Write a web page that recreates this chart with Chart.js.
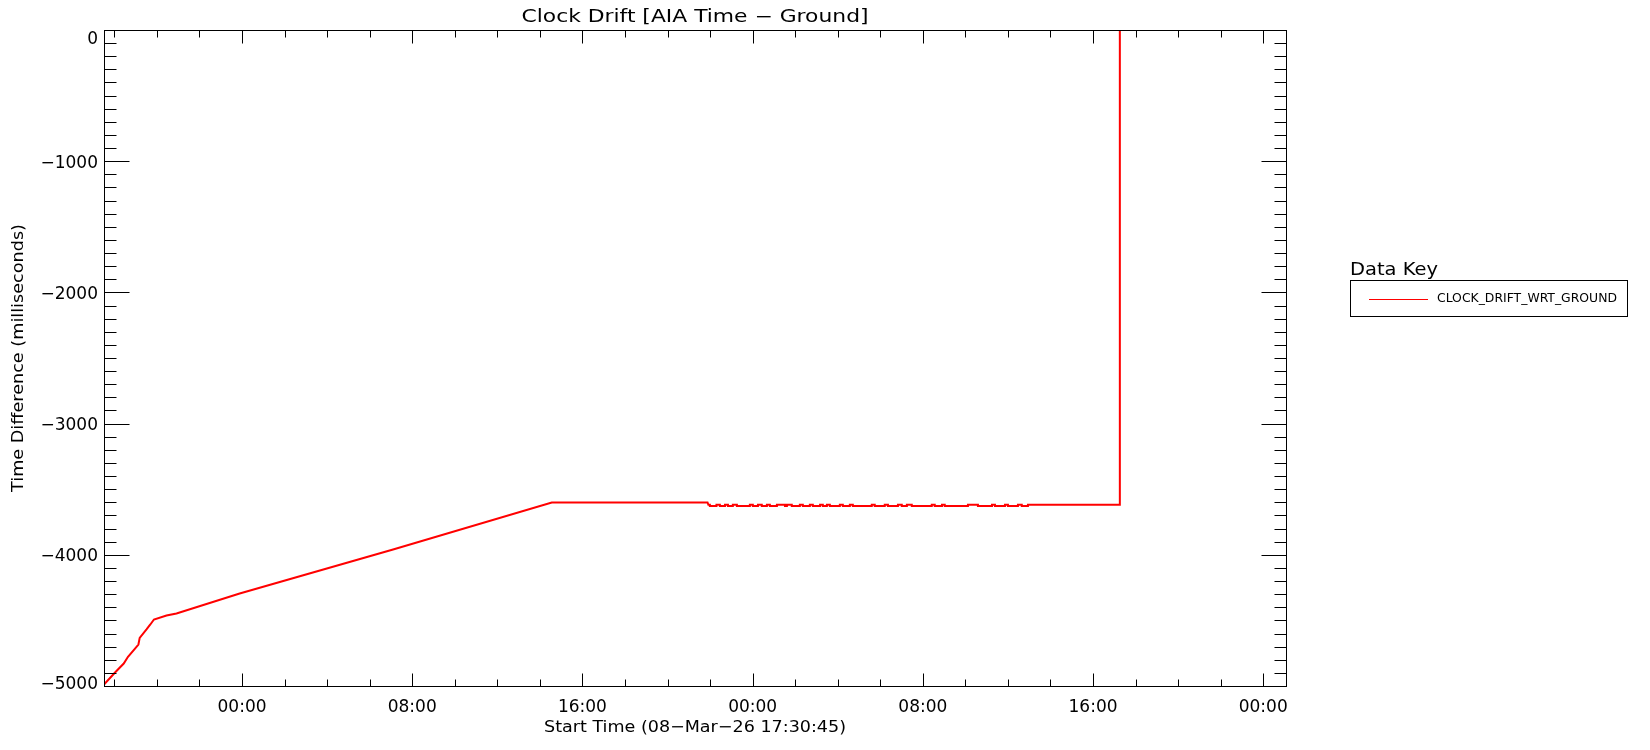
<!DOCTYPE html>
<html>
<head>
<meta charset="utf-8">
<title>Clock Drift</title>
<script src="https://cdn.jsdelivr.net/npm/chart.js@4.4.1/dist/chart.umd.min.js"></script>
<style>
  html, body { margin: 0; padding: 0; background: #fff; }
  #wrap { position: relative; width: 1650px; height: 750px; }
</style>
</head>
<body>
<div id="wrap"><canvas id="driftChart"></canvas></div>
<script>
// hours counted from 09-Mar-26 00:00, values in milliseconds
const driftHours = [
  -6.4875, -5.98, -5.56, -5.36, -5.04, -4.87, -4.81, -4.49, -4.31, -4.14,
  -3.55, -3.08, -0.11, 7.10, 14.56, 21.88, 21.92,
  // short dips in the second plateau
  21.99, 21.99, 22.30, 22.30,
  22.46, 22.46, 22.70, 22.70,
  22.84, 22.84, 23.07, 23.07,
  23.26, 23.26, 23.87, 23.87,
  24.01, 24.01, 24.25, 24.25,
  24.43, 24.43, 24.67, 24.67,
  24.81, 24.81, 25.14, 25.14,
  25.52, 25.52, 25.61, 25.61,
  25.84, 25.84, 26.22, 26.22,
  26.36, 26.36, 26.69, 26.69,
  26.83, 26.83, 27.17, 27.17,
  27.30, 27.30, 27.49, 27.49,
  27.63, 27.63, 28.10, 28.10,
  28.24, 28.24, 28.57, 28.57,
  28.71, 28.71, 29.60, 29.60,
  29.74, 29.74, 30.21, 30.21,
  30.36, 30.36, 30.83, 30.83,
  31.01, 31.01, 31.25, 31.25,
  31.48, 31.48, 32.42, 32.42,
  32.56, 32.56, 32.90, 32.90,
  33.03, 33.03, 34.12, 34.12,
  34.59, 34.59, 35.25, 35.25,
  35.39, 35.39, 35.86, 35.86,
  36.00, 36.00, 36.47, 36.47,
  36.65, 36.65, 36.94, 36.94,
  41.26, 41.26,
];
const driftMs = [
  -4989, -4899, -4829, -4777, -4717, -4684, -4633, -4569, -4531, -4493,
  -4463, -4447, -4295, -3960, -3601, -3601, -3619,
  -3619, -3629, -3629, -3619,
  -3619, -3629, -3629, -3619,
  -3619, -3629, -3629, -3619,
  -3619, -3629, -3629, -3619,
  -3619, -3629, -3629, -3619,
  -3619, -3629, -3629, -3619,
  -3619, -3629, -3629, -3619,
  -3619, -3629, -3629, -3619,
  -3619, -3629, -3629, -3619,
  -3619, -3629, -3629, -3619,
  -3619, -3629, -3629, -3619,
  -3619, -3629, -3629, -3619,
  -3619, -3629, -3629, -3619,
  -3619, -3629, -3629, -3619,
  -3619, -3629, -3629, -3619,
  -3619, -3629, -3629, -3619,
  -3619, -3629, -3629, -3619,
  -3619, -3629, -3629, -3619,
  -3619, -3629, -3629, -3619,
  -3619, -3629, -3629, -3619,
  -3619, -3629, -3629, -3619,
  -3619, -3629, -3629, -3619,
  -3619, -3629, -3629, -3619,
  -3619, -3629, -3629, -3619,
  -3619, -3629, -3629, -3619,
  -3619, 0,
];

const xRange = [-6.4875, 49.07];
const xTickHours = [0, 8, 16, 24, 32, 40, 48];
const xTickLabels = ["00:00", "08:00", "16:00", "00:00", "08:00", "16:00", "00:00"];
const xMinorStep = 2;
const yRange = [-5000, 0];
const yTicks = [0, -1000, -2000, -3000, -4000, -5000];
const yTickLabels = ["0", "\u22121000", "\u22122000", "\u22123000", "\u22124000", "\u22125000"];
const yMinorStep = 100;

const titleText = "Clock Drift [AIA Time \u2212 Ground]";
const xTitleText = "Start Time (08\u2212Mar\u221226 17:30:45)";
const yTitleText = "Time Difference (milliseconds)";
const keyTitle = "Data Key";
const seriesName = "CLOCK_DRIFT_WRT_GROUND";

const FONT = "'DejaVu Sans', 'Liberation Sans', sans-serif";

// draw text stretched horizontally to a target width
function fitText(ctx, text, x, y, size, width, align, angle) {
  ctx.save();
  ctx.font = `${size}px ${FONT}`;
  const w = ctx.measureText(text).width;
  ctx.translate(x, y);
  if (angle) ctx.rotate(angle);
  ctx.scale(width / w, 1);
  ctx.textBaseline = "middle";
  ctx.textAlign = align;
  ctx.fillText(text, 0, 0);
  ctx.restore();
}

const framePlugin = {
  id: "frame",
  afterDraw(chart) {
    const { ctx, chartArea: a, scales } = chart;
    const xs = scales.x;
    const ys = scales.y;
    ctx.save();
    ctx.strokeStyle = "#000";
    ctx.lineWidth = 1;
    const L = Math.round(a.left) + 0.5, R = Math.round(a.right) + 0.5;
    const T = Math.round(a.top) + 0.5, B = Math.round(a.bottom) + 0.5;
    ctx.strokeRect(L, T, R - L, B - T);
    ctx.beginPath();
    // x ticks, inward on bottom and top
    for (let h = Math.ceil(xRange[0] / xMinorStep) * xMinorStep; h <= xRange[1]; h += xMinorStep) {
      const px = Math.round(xs.getPixelForValue(h)) + 0.5;
      const len = xTickHours.includes(h) ? 13 : 7;
      ctx.moveTo(px, B); ctx.lineTo(px, B - len);
      ctx.moveTo(px, T); ctx.lineTo(px, T + len);
    }
    // y ticks, inward on left and right
    for (let v = yRange[0]; v <= yRange[1]; v += yMinorStep) {
      const py = Math.round(ys.getPixelForValue(v)) + 0.5;
      const len = yTicks.includes(v) ? 25 : 12;
      ctx.moveTo(L, py); ctx.lineTo(L + len, py);
      ctx.moveTo(R, py); ctx.lineTo(R - len, py);
    }
    ctx.stroke();

    // y tick labels; end labels are pulled inside the frame as in the original
    ctx.fillStyle = "#000";
    ctx.font = `17px ${FONT}`;
    ctx.textAlign = "right";
    ctx.textBaseline = "middle";
    yTicks.forEach((v, i) => {
      let py = ys.getPixelForValue(v) + 2;
      if (i === 0) py += 8;
      if (i === yTicks.length - 1) py -= 3;
      ctx.fillText(yTickLabels[i], a.left - 6, py);
    });

    fitText(ctx, titleText, (a.left + a.right) / 2, 18, 17, 347, "center");
    fitText(ctx, xTitleText, (a.left + a.right) / 2, 728, 16, 302, "center");
    fitText(ctx, yTitleText, 19, 358, 15, 268, "center", -Math.PI / 2);

    // data key
    fitText(ctx, keyTitle, 1350, 271, 17, 88, "left");
    ctx.strokeRect(1350.5, 280.5, 277, 36);
    ctx.beginPath();
    ctx.strokeStyle = "#ff0000";
    ctx.moveTo(1369, 299.5); ctx.lineTo(1428, 299.5);
    ctx.stroke();
    fitText(ctx, seriesName, 1437, 299, 13, 180, "left");
    ctx.restore();
  },
};

new Chart(document.getElementById("driftChart"), {
  type: "line",
  data: {
    datasets: [{
      label: seriesName,
      data: driftHours.map((h, i) => ({ x: h, y: driftMs[i] })),
      borderColor: "#ff0000",
      borderWidth: 2,
      pointRadius: 0,
      tension: 0,
      fill: false,
    }],
  },
  options: {
    responsive: true,
    maintainAspectRatio: false,
    animation: false,
    layout: { padding: { top: 30, right: 364, left: 0, bottom: 0 } },
    plugins: { legend: { display: false }, title: { display: false }, tooltip: { enabled: false } },
    scales: {
      x: {
        type: "linear",
        min: xRange[0],
        max: xRange[1],
        afterBuildTicks: (s) => { s.ticks = xTickHours.map((v) => ({ value: v })); },
        afterFit: (s) => { s.height = 64; },
        grid: { display: false, drawTicks: false },
        border: { display: false },
        ticks: {
          autoSkip: false,
          maxRotation: 0,
          padding: 11,
          color: "#000",
          font: { family: FONT, size: 17 },
          callback: (v) => xTickLabels[xTickHours.indexOf(v)] ?? "",
        },
      },
      y: {
        min: yRange[0],
        max: yRange[1],
        afterBuildTicks: (s) => { s.ticks = yTicks.map((v) => ({ value: v })); },
        afterFit: (s) => { s.width = 104; },
        grid: { display: false, drawTicks: false },
        border: { display: false },
        ticks: { display: false },
      },
    },
  },
  plugins: [framePlugin],
});
</script>
</body>
</html>
